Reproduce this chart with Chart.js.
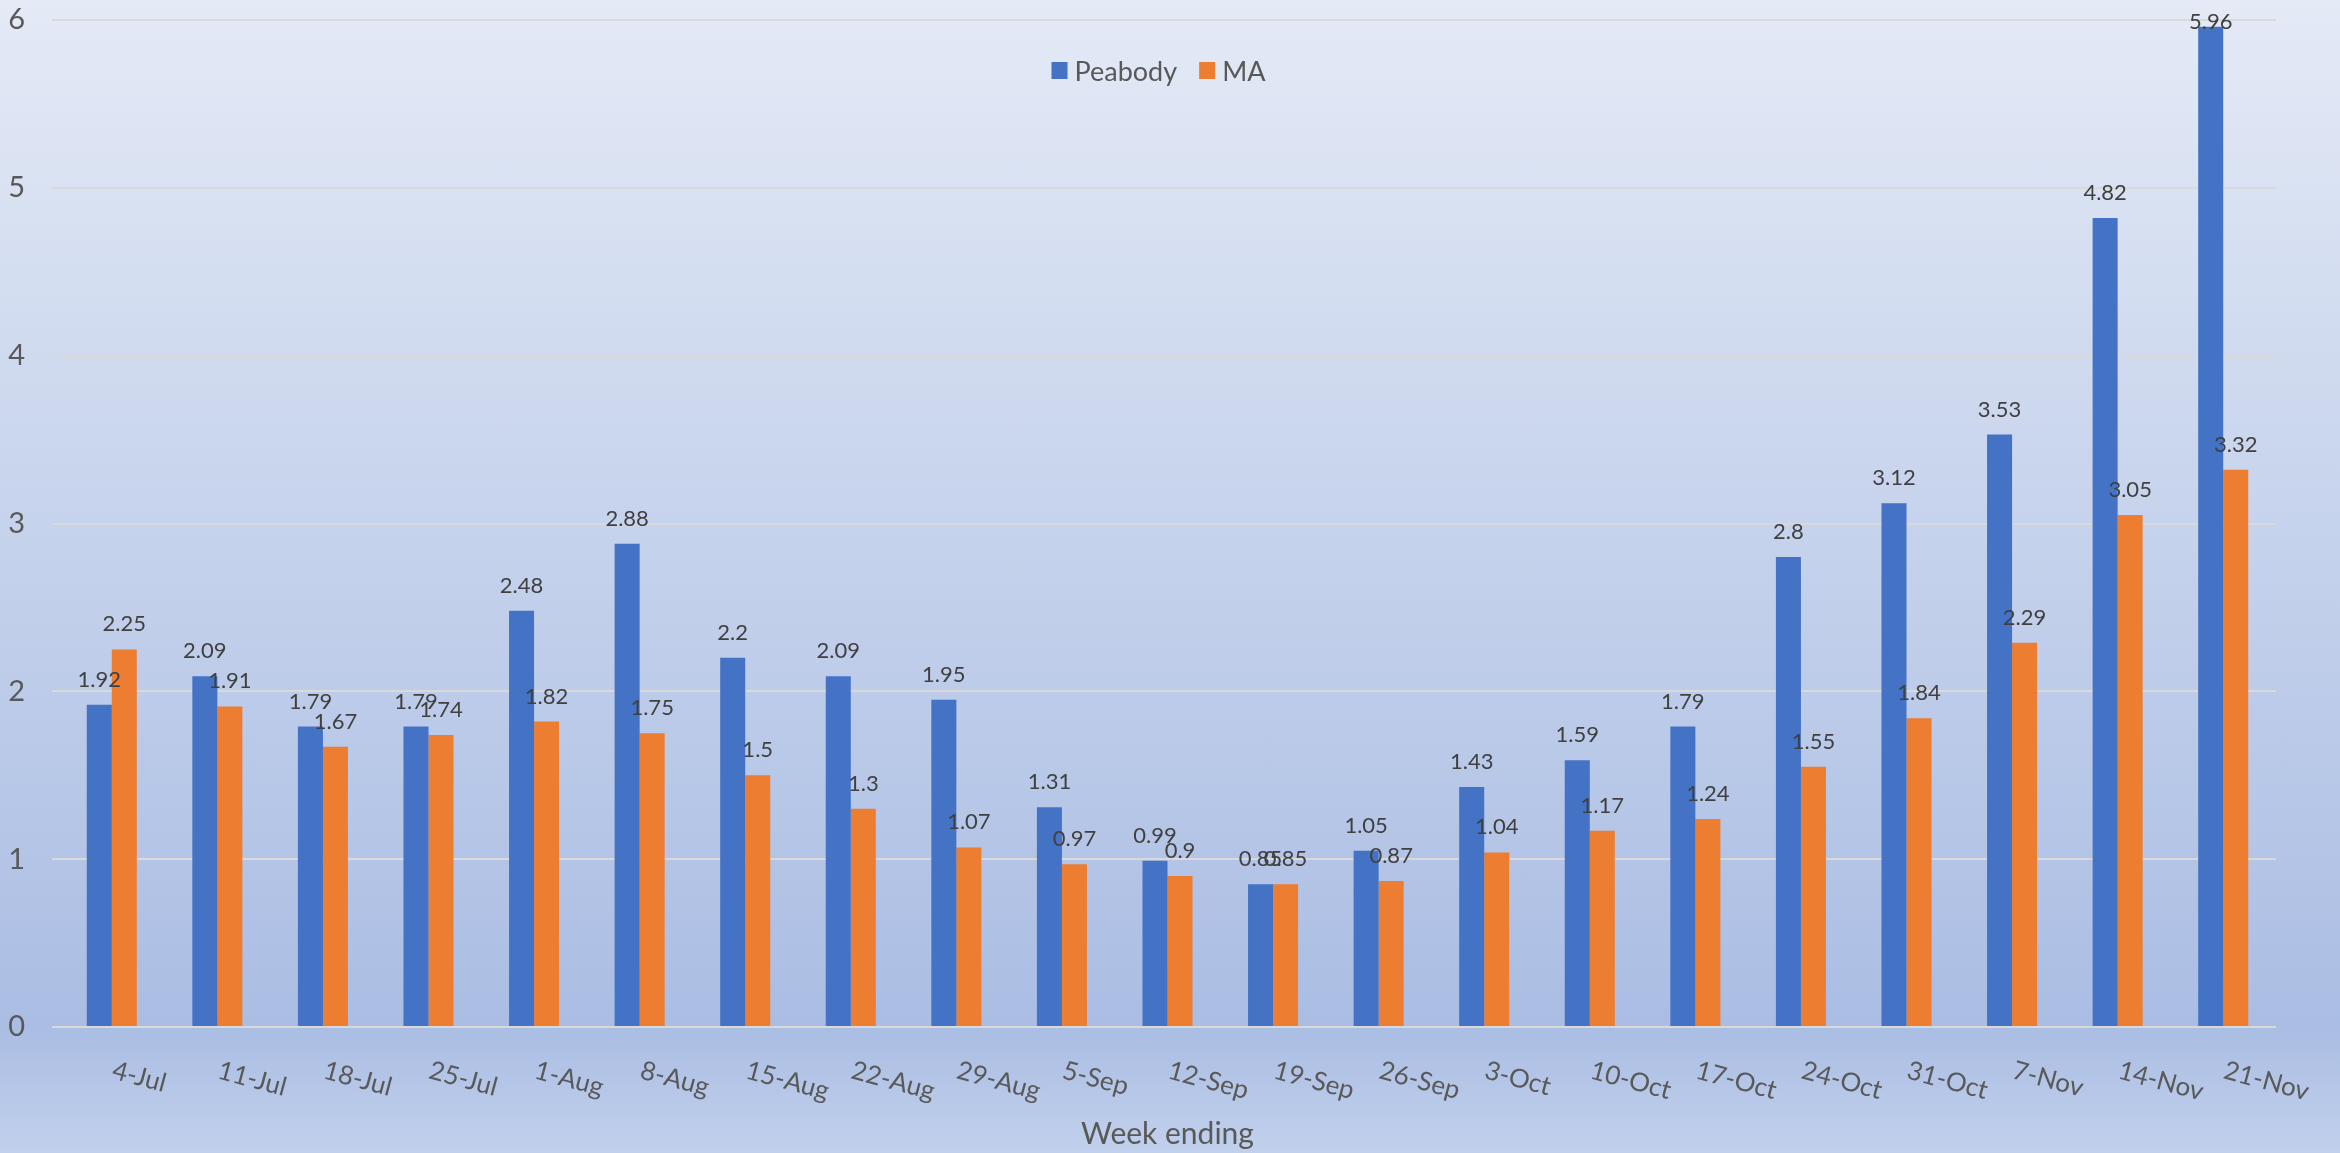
<!DOCTYPE html>
<html>
<head>
<meta charset="utf-8">
<script src="https://cdn.jsdelivr.net/npm/chart.js@4.4.1/dist/chart.umd.min.js"></script>
<style>
  html, body { margin: 0; padding: 0; }
  #wrap {
    position: relative; width: 2340px; height: 1153px;
    background: linear-gradient(to bottom, #e4eaf6 0%, #aabde3 89%, #c1d0ec 100%);
  }
  canvas { display: block; }
</style>
</head>
<body>
<div id="wrap"><canvas id="c" width="2340" height="1153"></canvas></div>
<script>
const categories = ['4-Jul','11-Jul','18-Jul','25-Jul','1-Aug','8-Aug','15-Aug','22-Aug','29-Aug','5-Sep','12-Sep','19-Sep','26-Sep','3-Oct','10-Oct','17-Oct','24-Oct','31-Oct','7-Nov','14-Nov','21-Nov'];
const peabodyValues = [1.92,2.09,1.79,1.79,2.48,2.88,2.2,2.09,1.95,1.31,0.99,0.85,1.05,1.43,1.59,1.79,2.8,3.12,3.53,4.82,5.96];
const maValues = [2.25,1.91,1.67,1.74,1.82,1.75,1.5,1.3,1.07,0.97,0.9,0.85,0.87,1.04,1.17,1.24,1.55,1.84,2.29,3.05,3.32];
const seriesNames = ['Peabody', 'MA'];
const seriesColors = ['#4472C4', '#ED7D31'];
const yTickValues = [0,1,2,3,4,5,6];
const xAxisTitle = 'Week ending';

const FONT = 'Lato, "Open Sans", sans-serif';

const dataLabelPlugin = {
  id: 'dataLabels',
  afterDatasetsDraw(chart) {
    const ctx = chart.ctx;
    ctx.save();
    ctx.font = '22px ' + FONT;
    ctx.fillStyle = '#404040';
    ctx.textAlign = 'center';
    ctx.textBaseline = 'alphabetic';
    chart.data.datasets.forEach((ds, di) => {
      const meta = chart.getDatasetMeta(di);
      meta.data.forEach((el, i) => {
        const y = Math.max(el.y - 18, 29);
        ctx.fillText(String(ds.data[i]), el.x, y);
      });
    });
    ctx.restore();
  }
};

const xLabelPlugin = {
  id: 'xLabels',
  afterDraw(chart) {
    const ctx = chart.ctx;
    const sx = chart.scales.x;
    ctx.save();
    ctx.font = '26px ' + FONT;
    ctx.fillStyle = '#595959';
    ctx.textAlign = 'left';
    ctx.textBaseline = 'alphabetic';
    chart.data.labels.forEach((lab, i) => {
      const x = sx.getPixelForTick(i);
      const y = chart.chartArea.bottom + 51;
      ctx.save();
      ctx.translate(x - 1, y);
      ctx.rotate(15 * Math.PI / 180);
      ctx.fillText(lab, 0, 0);
      ctx.restore();
    });
    ctx.restore();
  }
};

const legendPlugin = {
  id: 'customLegend',
  afterDraw(chart) {
    const ctx = chart.ctx;
    ctx.save();
    ctx.font = '27px ' + FONT;
    ctx.textBaseline = 'alphabetic';
    ctx.textAlign = 'left';
    const box = 16, gapText = 7, gapItem = 22;
    const items = chart.data.datasets.map(ds => ({ label: ds.label, color: ds.backgroundColor, w: ctx.measureText(ds.label).width }));
    let total = 0;
    items.forEach((it, i) => { total += box + gapText + it.w + (i < items.length - 1 ? gapItem : 0); });
    const cx = (chart.chartArea.left + chart.chartArea.right) / 2 - 9;
    let x = cx - total / 2;
    const midY = 71;
    items.forEach(it => {
      ctx.fillStyle = it.color;
      ctx.fillRect(x, midY - 9, box, 17);
      x += box + gapText;
      ctx.fillStyle = '#595959';
      ctx.fillText(it.label, x, midY + 10);
      x += it.w + gapItem;
    });
    ctx.restore();
  }
};

new Chart(document.getElementById('c'), {
  type: 'bar',
  data: {
    labels: categories,
    datasets: [
      { label: seriesNames[0], data: peabodyValues, backgroundColor: seriesColors[0], borderWidth: 0 },
      { label: seriesNames[1], data: maValues, backgroundColor: seriesColors[1], borderWidth: 0 }
    ]
  },
  options: {
    responsive: false,
    devicePixelRatio: 1,
    animation: false,
    layout: { padding: { top: 0, right: 64, bottom: 0, left: 0 } },
    datasets: { bar: { categoryPercentage: 0.474, barPercentage: 1.0 } },
    plugins: {
      legend: { display: false },
      tooltip: { enabled: false },
      title: { display: false }
    },
    scales: {
      x: {
        grid: { display: false },
        border: { display: false },
        ticks: { display: false },
        title: {
          display: true, text: xAxisTitle, color: '#595959',
          font: { family: FONT, size: 30 }, padding: { top: 0, bottom: 1 }
        },
        afterFit(scale) { scale.height = 126; }
      },
      y: {
        min: 0, max: 6,
        afterBuildTicks(scale) { scale.ticks = yTickValues.map(v => ({ value: v })); },
        grid: { color: '#d9d9d9', lineWidth: 2, drawTicks: true, tickLength: 7, tickColor: '#d9d9d9' },
        border: { display: false },
        ticks: { color: '#595959', font: { family: FONT, size: 29 }, padding: 27 },
        afterFit(scale) { scale.width = 59; scale.paddingTop = 20; scale.paddingBottom = 20; }
      }
    }
  },
  plugins: [dataLabelPlugin, xLabelPlugin, legendPlugin]
});
</script>
</body>
</html>
